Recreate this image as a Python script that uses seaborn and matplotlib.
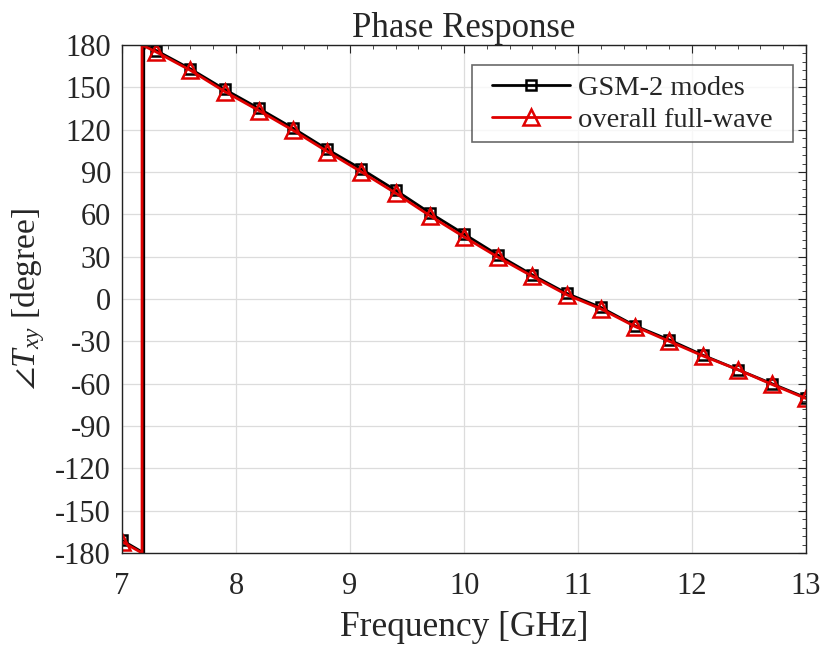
import numpy as np
import pandas as pd
import matplotlib
matplotlib.use("Agg")
import matplotlib.pyplot as plt
import seaborn as sns
from matplotlib.ticker import MultipleLocator
from matplotlib.path import Path

# ---- data ----
freq = [7.0, 7.3, 7.6, 7.9, 8.2, 8.5, 8.8, 9.1, 9.4, 9.7, 10.0,
        10.3, 10.6, 10.9, 11.2, 11.5, 11.8, 12.1, 12.4, 12.7, 13.0]
gsm = [-171, 176, 163, 148.5, 135, 121, 106, 92, 77, 61, 46,
       31, 17, 4, -6, -19, -29, -40, -50, -60, -70]
full = [-172, 175, 162, 147, 133.5, 119.5, 104.5, 90, 75, 59, 44,
        29.5, 16, 3, -7, -19.5, -30, -40.5, -50, -60.5, -70.5]
wrap_gsm = 7.19   # frequency where phase wraps (-180 -> 180)
wrap_full = 7.175

series_names = ["GSM-2 modes", "overall full-wave"]
yticks = list(range(-180, 181, 30))
xticks = list(range(7, 14))


def wrapped(vals, fw):
    xs = [freq[0], fw, fw] + freq[1:]
    ys = [vals[0], -180, 180] + vals[1:]
    return xs, ys


sns.set_style("white")
plt.rcParams['font.family'] = ['Liberation Serif', 'DejaVu Serif']
plt.rcParams['mathtext.fontset'] = 'custom'
plt.rcParams['mathtext.rm'] = 'Liberation Serif'
plt.rcParams['mathtext.it'] = 'Liberation Serif:italic'
plt.rcParams['axes.unicode_minus'] = False

fig = plt.figure(figsize=(8.25, 6.48), dpi=100)
ax = fig.add_axes([0.148, 0.1466, 0.829, 0.784])

styles = [dict(color="black", marker="s", ms=7.5),
          dict(color="#e00000", marker="^", ms=11)]
for name, vals, fw, st in zip(series_names, [gsm, full], [wrap_gsm, wrap_full], styles):
    xs, ys = wrapped(vals, fw)
    df = pd.DataFrame({"f": xs, "v": ys})
    mk = [0] + list(range(3, len(xs)))
    sns.lineplot(data=df, x="f", y="v", ax=ax, estimator=None, sort=False,
                 color=st["color"], lw=2, marker=st["marker"], markersize=st["ms"],
                 markerfacecolor="none", markeredgecolor=st["color"], markeredgewidth=1.8,
                 markevery=mk, label=name)

ax.set_xlim(7, 13)
ax.set_ylim(-180, 180)
ax.set_xticks(xticks)
ax.set_yticks(yticks)
ax.xaxis.set_minor_locator(MultipleLocator(0.2))
ax.yaxis.set_minor_locator(MultipleLocator(6))
ax.grid(True, which="major", color="#dcdcdc", lw=0.9)
ax.tick_params(which="both", direction="in", top=True, right=True, labelsize=22)
ax.tick_params(axis="x", which="major", pad=14)
ax.tick_params(axis="y", which="major", pad=8)
ax.tick_params(which="major", length=6)
ax.tick_params(which="minor", length=3)
for s in ax.spines.values():
    s.set_color("#222222")
    s.set_linewidth(1.0)

ax.set_xlabel("Frequency [GHz]", fontsize=25.5, labelpad=7)
ax.set_ylabel(r"$\angle T_{xy}$ [degree]", fontsize=24, labelpad=6)
ax.set_title("Phase Response", fontsize=25, pad=6)

leg = ax.legend(loc="upper right", bbox_to_anchor=(0.9664, 0.9606), fontsize=20.5,
                frameon=True, fancybox=False, edgecolor="#444444",
                handlelength=2.75, borderpad=0.35, labelspacing=0.2,
                handletextpad=0.3, borderaxespad=0)
leg.get_frame().set_linewidth(1.2)


def wide_box(x0, y0, width, height, mutation_size, dx=10):
    # rectangle frame padded horizontally a little more than vertically
    x0 -= dx
    width += 2 * dx
    return Path([(x0, y0), (x0 + width, y0), (x0 + width, y0 + height),
                 (x0, y0 + height), (x0, y0)], closed=True)


leg.get_frame().set_boxstyle(wide_box)

fig.savefig("out.png", dpi=100)
